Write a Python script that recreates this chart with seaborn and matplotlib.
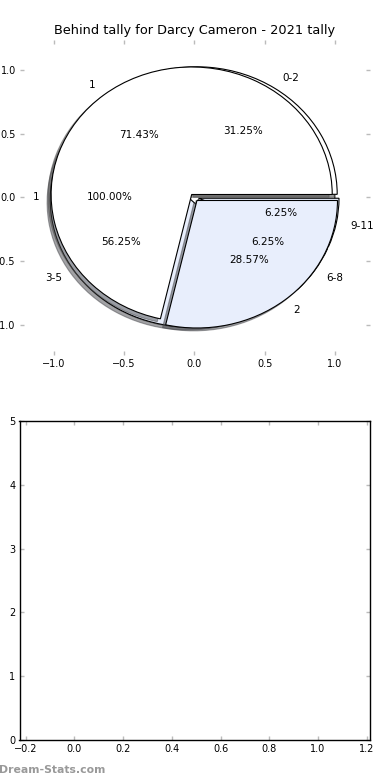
import matplotlib
matplotlib.use('Agg')
import matplotlib.pyplot as plt
import seaborn as sns
import numpy as np

sns.set_theme(style='white')
plt.rcParams['font.family'] = ['DejaVu Sans']
plt.rcParams['text.color'] = 'black'

# chart data
title = 'Behind tally for Darcy Cameron - 2021 tally'

total_labels = ['1']
total_values = [1]

range_labels = ['0-2', '3-5', '6-8', '9-11']
range_values = [5, 9, 1, 1]

behind_labels = ['1', '2']
behind_values = [5, 2]

pie_colors = ['white', '#e8eefc']

fig = plt.figure(figsize=(3.9, 7.8), dpi=100)
ax1 = fig.add_axes([0.0513, 0.5449, 0.8974, 0.4038])
ax2 = fig.add_axes([0.05, 0.0513, 0.8987, 0.409])

# three pies stacked on the same axes, later ones on top
pies = [(total_values, total_labels, 0.0),
        (range_values, range_labels, 0.03),
        (behind_values, behind_labels, 0.03)]
for i, (vals, labs, ex) in enumerate(pies):
    ax1.pie(vals, labels=labs, colors=pie_colors, explode=[ex] * len(vals),
            autopct='%1.2f%%', shadow={'ox': -0.016, 'oy': -0.016}, frame=True,
            wedgeprops={'edgecolor': 'black', 'linewidth': 0.8, 'zorder': 1 + 0.1 * i},
            textprops={'fontsize': 7.5, 'color': 'black'})

ax1.set_aspect('auto')
ax1.set_xlim(-1.24, 1.25)
ax1.set_ylim(-1.235, 1.235)
ax1.set_xticks([-1.0, -0.5, 0.0, 0.5, 1.0])
ax1.set_yticks([-1.0, -0.5, 0.0, 0.5, 1.0])
for s in ax1.spines.values():
    s.set_visible(False)
ax1.set_title(title, fontsize=9.3, pad=4, color='black')

# empty lower panel
ax2.set_xlim(-0.225, 1.2135)
ax2.set_ylim(0, 5)
ax2.set_xticks(np.arange(-0.2, 1.21, 0.2))
ax2.set_yticks([0, 1, 2, 3, 4, 5])
for s in ax2.spines.values():
    s.set_visible(True)
    s.set_color('black')
    s.set_linewidth(1)

for ax in (ax1, ax2):
    ax.tick_params(direction='in', top=True, right=True, bottom=True, left=True,
                   color='#bbbbbb', length=3, width=1, labelsize=7, labelcolor='black', pad=3)

fig.text(-0.003, 0.0128, 'Dream-Stats.com', color='#999999', fontsize=7.8,
         fontweight='bold', ha='left', va='center')

fig.savefig('out.png', dpi=100)
